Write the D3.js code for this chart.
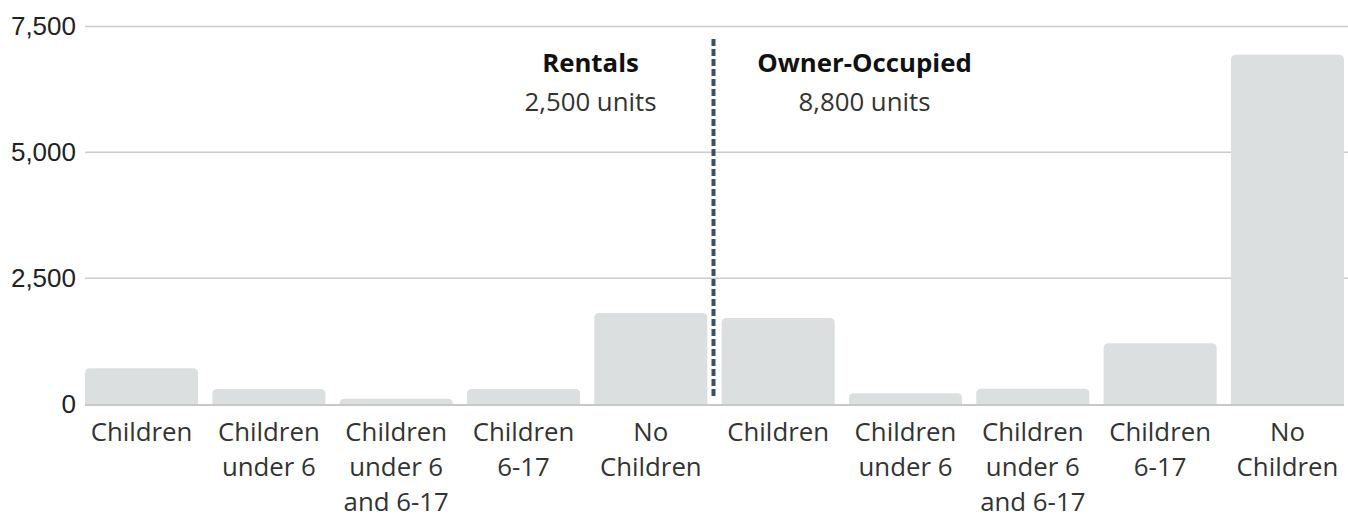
<!DOCTYPE html>
<html>
<head>
<meta charset="utf-8">
<script src="https://cdn.jsdelivr.net/npm/d3@7"></script>
<style>
  body { margin: 0; background: #fff; }
  svg { display: block; }
</style>
</head>
<body>
<div id="vis-holder"></div>
<script>
// Data
const categories = [
  "Children", "Children\nunder 6", "Children\nunder 6\nand 6-17", "Children\n6-17", "No\nChildren",
  "Children", "Children\nunder 6", "Children\nunder 6\nand 6-17", "Children\n6-17", "No\nChildren"
];
const units = [710, 300, 105, 300, 1810, 1710, 215, 305, 1205, 6940];
const groupNames = ["Rentals", "Owner-Occupied"];
const groupTotals = ["2,500 units", "8,800 units"];
const yTicks = [0, 2500, 5000, 7500];

// Set dimensions
const width = 1348;
const height = 515;
const margin = { top: 26.5, right: 4, bottom: 111, left: 85 };

const svg = d3.select("#vis-holder")
  .append("svg")
  .attr("width", width)
  .attr("height", height);

// Scales
const x = d3.scaleBand()
  .domain(d3.range(units.length))
  .range([margin.left, width - margin.right])
  .paddingInner(0.112)
  .paddingOuter(0);

const y = d3.scaleLinear()
  .domain([0, 7500])
  .range([height - margin.bottom, margin.top]);

// Gridlines
svg.append("g")
  .selectAll("line")
  .data(yTicks.filter(d => d > 0))
  .join("line")
    .attr("x1", margin.left)
    .attr("x2", width)
    .attr("y1", d => y(d))
    .attr("y2", d => y(d))
    .attr("stroke", "#cccccc")
    .attr("stroke-width", 1.5);

// Y axis labels
const yAxis = svg.append("g")
  .attr("transform", `translate(${margin.left - 9},0)`)
  .call(d3.axisLeft(y).tickValues(yTicks).tickSize(0).tickPadding(0).tickFormat(d3.format(",")));
yAxis.select(".domain").remove();
yAxis.selectAll("text")
  .attr("font-family", "'Liberation Sans', Arial, sans-serif")
  .attr("font-size", "26px")
  .attr("fill", "#222");

// Bars with rounded tops
const r = 5;
function barPath(d, i) {
  const x0 = x(i), x1 = x(i) + x.bandwidth();
  const y0 = y(0), yt = y(d);
  const rr = Math.min(r, (y0 - yt));
  return `M${x0},${y0}V${yt + rr}Q${x0},${yt} ${x0 + rr},${yt}H${x1 - rr}Q${x1},${yt} ${x1},${yt + rr}V${y0}Z`;
}
svg.append("g")
  .selectAll("path")
  .data(units)
  .join("path")
    .attr("d", (d, i) => barPath(d, i))
    .attr("fill", "#dcdfe0");

// Baseline
svg.append("line")
  .attr("x1", margin.left)
  .attr("x2", width - margin.right)
  .attr("y1", y(0) + 1)
  .attr("y2", y(0) + 1)
  .attr("stroke", "#c8c8c8")
  .attr("stroke-width", 2);

// X axis labels (multi-line)
const labels = svg.append("g")
  .selectAll("text")
  .data(categories)
  .join("text")
    .attr("x", (d, i) => x(i) + x.bandwidth() / 2)
    .attr("y", 440.5)
    .attr("text-anchor", "middle")
    .attr("font-family", "'Open Sans', sans-serif")
    .attr("font-size", "25.8px")
    .attr("fill", "#333");
labels.selectAll("tspan")
  .data(d => d.split("\n"))
  .join("tspan")
    .attr("x", function() { return this.parentNode.getAttribute("x"); })
    .attr("dy", (d, i) => i === 0 ? 0 : 35.4)
    .text(d => d);

// Divider between rentals and owner-occupied
const split = (x(4) + x.bandwidth() + x(5)) / 2 - 1;
svg.append("line")
  .attr("x1", split)
  .attr("x2", split)
  .attr("y1", 39)
  .attr("y2", 397)
  .attr("stroke", "#3b5068")
  .attr("stroke-width", 4)
  .attr("stroke-dasharray", "7,3");

// Group annotations
const groupX = [split - 123, split + 151];
groupNames.forEach((name, i) => {
  svg.append("text")
    .attr("x", groupX[i])
    .attr("y", 71.5)
    .attr("text-anchor", "middle")
    .attr("font-family", "'Open Sans', sans-serif")
    .attr("font-weight", "bold")
    .attr("font-size", "25.8px")
    .attr("fill", "#111")
    .text(name);
  svg.append("text")
    .attr("x", groupX[i])
    .attr("y", 111)
    .attr("text-anchor", "middle")
    .attr("font-family", "'Open Sans', sans-serif")
    .attr("font-size", "25.8px")
    .attr("fill", "#333")
    .text(groupTotals[i]);
});
</script>
</body>
</html>
